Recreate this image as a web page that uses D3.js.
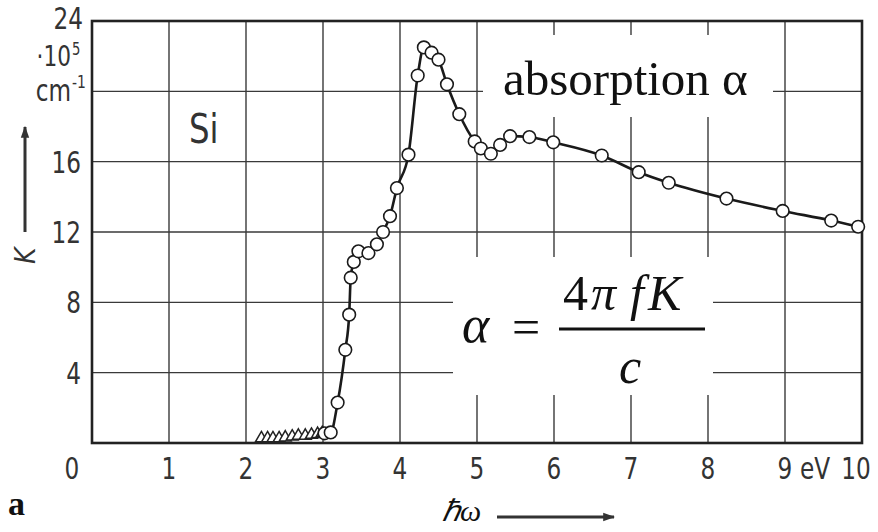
<!DOCTYPE html>
<html><head><meta charset="utf-8">
<script src="https://cdn.jsdelivr.net/npm/d3@7/dist/d3.min.js"></script>
<style>
html,body{margin:0;padding:0;background:#fff;}
svg{display:block;}
.tk{font-family:"Liberation Sans Narrow","DejaVu Sans Condensed","Roboto Condensed",sans-serif;fill:#333;}
.tm{font-family:"Liberation Serif","Times New Roman",serif;fill:#111;}
</style></head>
<body>
<svg id="c" width="878" height="532"></svg>
<script>
// ---- data ----
const xTicks = [0,1,2,3,4,5,6,7,8,9,10];
const xTickLabels = ["0","1","2","3","4","5","6","7","8","9","10"];
const yGrid = [4,8,12,16,20];
const yTicks = [4,8,12,16,24];
const yTickLabels = ["4","8","12","16","24"];
// triangle-marked points (photon energy eV, K ·10^5 cm^-1)
const triE = [2.20,2.28,2.35,2.43,2.51,2.60,2.68,2.77,2.85,2.93,2.99];
const triK = [0.15,0.15,0.15,0.15,0.2,0.25,0.3,0.3,0.35,0.4,0.45];
// circle-marked points
const circE = [3.02,3.10,3.19,3.29,3.34,3.36,3.40,3.46,3.59,3.70,3.78,3.87,3.96,4.11,4.23,4.31,4.41,4.50,4.61,4.77,4.97,5.05,5.18,5.30,5.43,5.68,5.99,6.62,7.10,7.49,8.24,8.97,9.60,9.95];
const circK = [0.55,0.6,2.3,5.3,7.3,9.4,10.3,10.9,10.8,11.3,12.0,12.9,14.5,16.4,20.9,22.5,22.2,21.8,20.4,18.7,17.15,16.75,16.45,16.95,17.45,17.4,17.1,16.35,15.4,14.8,13.9,13.2,12.65,12.3];

// ---- layout ----
const svg = d3.select("#c");
const x = d3.scaleLinear().domain([0,10]).range([92,862]);
const y = d3.scaleLinear().domain([0,24]).range([443,21]);

const defs = svg.append("defs");
defs.append("marker").attr("id","ah").attr("viewBox","0 0 10 10").attr("refX",9).attr("refY",5)
  .attr("markerWidth",4).attr("markerHeight",4).attr("orient","auto")
  .append("path").attr("d","M0,1.5 L10,5 L0,8.5 Z").attr("fill","#333");

// condensed sans label helper
function lbl(px, py, txt, size, anchor, sx){
  return svg.append("text").attr("class","tk")
    .attr("transform",`translate(${px},${py}) scale(${sx||0.86},1)`)
    .attr("text-anchor",anchor||"start").attr("font-size",size).text(txt);
}

// grid
const g = svg.append("g");
g.selectAll(".vg").data(xTicks.slice(1,-1)).enter().append("line")
  .attr("x1",d=>x(d)).attr("x2",d=>x(d)).attr("y1",y(0)).attr("y2",y(24))
  .attr("stroke","#3a3a3a").attr("stroke-width",1.4);
g.selectAll(".hg").data(yGrid).enter().append("line")
  .attr("x1",x(0)).attr("x2",x(10)).attr("y1",d=>y(d)).attr("y2",d=>y(d))
  .attr("stroke","#3a3a3a").attr("stroke-width",1.4);
g.append("rect").attr("x",x(0)).attr("y",y(24)).attr("width",x(10)-x(0)).attr("height",y(0)-y(24))
  .attr("fill","none").attr("stroke","#222").attr("stroke-width",2.6);

// data line
const pts = triE.map((e,i)=>[e,triK[i]]).concat(circE.map((e,i)=>[e,circK[i]]));
const line = d3.line().x(d=>x(d[0])).y(d=>y(d[1])).curve(d3.curveMonotoneX);
svg.append("path").datum(pts).attr("d",line).attr("fill","none").attr("stroke","#1a1a1a").attr("stroke-width",2.6);

// markers
svg.selectAll(".tri").data(triE.map((e,i)=>[e,triK[i]])).enter().append("path")
  .attr("d",d3.symbol().type(d3.symbolTriangle).size(62))
  .attr("transform",d=>`translate(${x(d[0])},${y(d[1])-2})`)
  .attr("fill","#fff").attr("stroke","#222").attr("stroke-width",1.5);
svg.selectAll(".cir").data(circE.map((e,i)=>[e,circK[i]])).enter().append("circle")
  .attr("cx",d=>x(d[0])).attr("cy",d=>y(d[1])).attr("r",6.3)
  .attr("fill","#fff").attr("stroke","#1a1a1a").attr("stroke-width",1.6);

// tick labels
const xOff = {0:-20, 10:-6};
xTicks.forEach((d,i)=>lbl(x(d)+(xOff[d]||0), 479, xTickLabels[i], 30, "middle"));
lbl(815, 479, "eV", 30, "middle");
yTicks.forEach((d,i)=>lbl(d===24?83:81, d===24?29:y(d)+11, yTickLabels[i], 30, "end"));

// unit labels
lbl(71, 66, "·10", 28, "end");
lbl(72, 55, "5", 17, "start");
lbl(71, 101, "cm", 30, "end");
lbl(72, 88, "-1", 18, "start");

// Si
lbl(189, 143, "Si", 40, "start", 0.9);

// y axis arrow + K
svg.append("line").attr("x1",25).attr("x2",25).attr("y1",232).attr("y2",127)
  .attr("stroke","#333").attr("stroke-width",3).attr("marker-end","url(#ah)");
svg.append("text").attr("class","tk").attr("transform","translate(35,264) rotate(-90)")
  .attr("font-size",28).attr("font-style","italic").text("K");

// x axis label + arrow
svg.append("text").attr("class","tm").attr("x",442).attr("y",521).attr("font-size",30).attr("font-style","italic").text("ℏω");
svg.append("line").attr("x1",497).attr("x2",614).attr("y1",517).attr("y2",517)
  .attr("stroke","#333").attr("stroke-width",3).attr("marker-end","url(#ah)");

// panel letter
svg.append("text").attr("class","tm").attr("x",8).attr("y",515).attr("font-size",34).attr("font-weight","bold").text("a");

// annotation boxes
svg.append("rect").attr("x",483).attr("y",35).attr("width",290).attr("height",82).attr("fill","#fff");
svg.append("text").attr("class","tm").attr("x",503).attr("y",95).attr("font-size",49).text("absorption α");

svg.append("rect").attr("x",453).attr("y",257).attr("width",260).attr("height",138).attr("fill","#fff");
svg.append("text").attr("class","tm").attr("x",462).attr("y",342).attr("font-size",52).attr("font-style","italic").text("α");
svg.append("text").attr("class","tm").attr("x",512).attr("y",344).attr("font-size",50).text("=");
svg.append("line").attr("x1",559).attr("x2",705).attr("y1",329).attr("y2",329).attr("stroke","#111").attr("stroke-width",3);
svg.append("text").attr("class","tm").attr("x",563).attr("y",310).attr("font-size",50).text("4");
svg.append("text").attr("class","tm").attr("x",591).attr("y",310).attr("font-size",50).attr("font-style","italic").text("π");
svg.append("text").attr("class","tm").attr("x",630).attr("y",310).attr("font-size",50).attr("font-style","italic").text("f");
svg.append("text").attr("class","tm").attr("x",648).attr("y",310).attr("font-size",50).attr("font-style","italic").text("K");
svg.append("text").attr("class","tm").attr("x",619).attr("y",383).attr("font-size",50).attr("font-style","italic").text("c");
</script>
</body></html>
